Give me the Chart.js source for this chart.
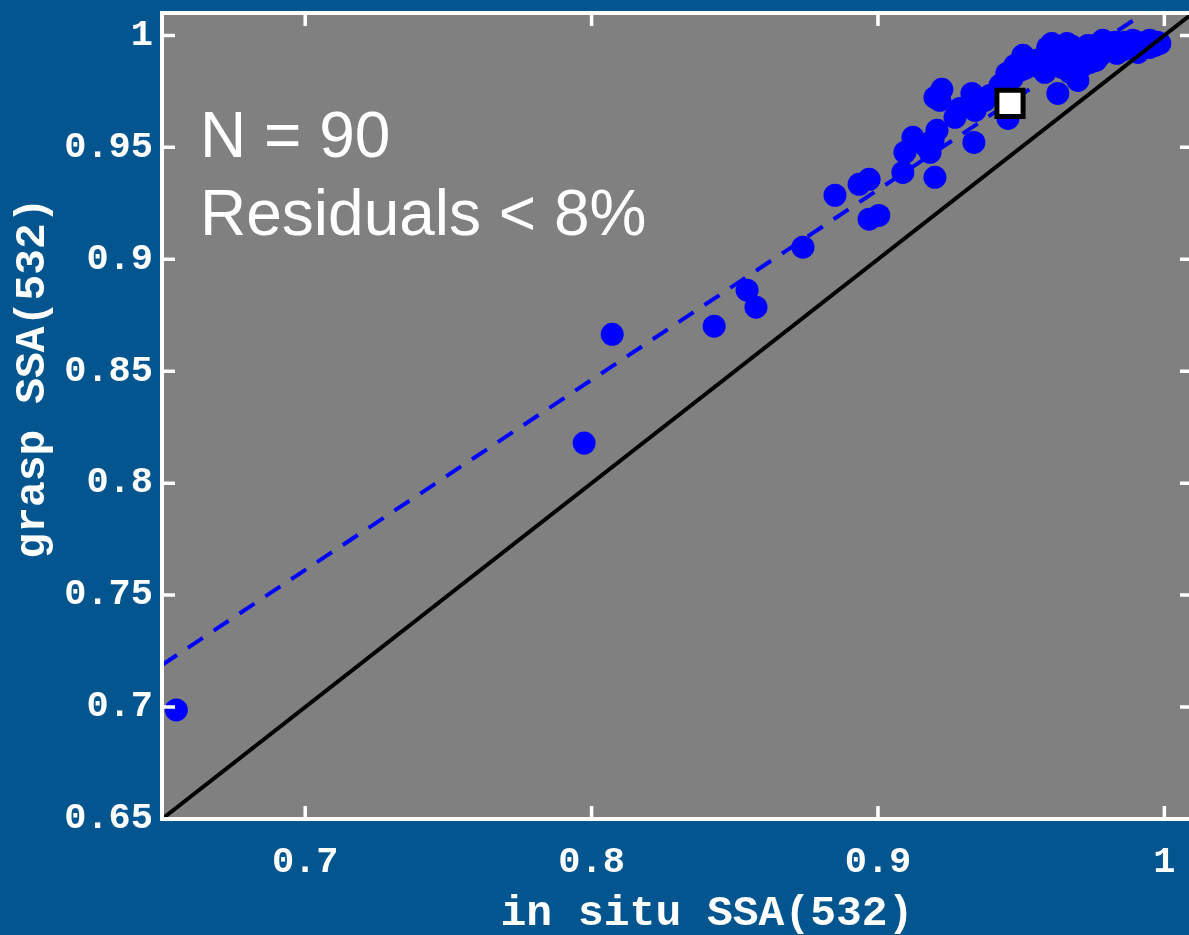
<!DOCTYPE html>
<html>
<head>
<meta charset="utf-8">
<title>SSA(532) comparison</title>
<script src="https://cdn.jsdelivr.net/npm/chart.js@4.4.1/dist/chart.umd.min.js"></script>
<style>
  html, body { margin: 0; padding: 0; overflow: hidden; background: #03558f; }
  #wrap { width: 1200px; height: 935px; }
</style>
</head>
<body>
<div id="wrap"><canvas id="ssaChart" width="1200" height="935"></canvas></div>
<script>
// in situ vs grasp single scattering albedo at 532 nm
const inSitu = [
  0.655, 0.7974, 0.8072, 0.8428, 0.8543, 0.8574, 0.8738, 0.885, 0.8934, 0.8969,
  0.8969, 0.9003, 0.9087, 0.9094, 0.9122, 0.9182, 0.9199, 0.9192, 0.9206, 0.9199,
  0.9223, 0.9269, 0.9328, 0.9339, 0.9373, 0.9335, 0.9454, 0.945, 0.9506, 0.9513,
  0.9565, 0.9593, 0.9642, 0.9628, 0.966, 0.9698, 0.9688, 0.9723, 0.9757, 0.9785,
  0.9834, 0.9817, 0.9862, 0.989, 0.9925, 0.9949, 0.9984, 0.9908, 0.9607, 0.9548,
  0.974, 0.967, 0.9775, 0.9967, 0.9583, 0.9478,
  0.9635, 0.9705, 0.9775, 0.9845, 0.988, 0.9932, 0.967, 0.9733, 0.9803, 0.9618,
  0.9653, 0.9712, 0.9747, 0.9827, 0.9873, 0.9949, 0.9565, 0.9531, 0.9583, 0.9628,
  0.9677, 0.9761, 0.9796, 0.9852, 0.9901, 0.9974, 0.9468, 0.9496, 0.9216, 0.9286,
  0.9164, 0.9391, 0.9426
];
const grasp = [
  0.6987, 0.8179, 0.8665, 0.8701, 0.8862, 0.8786, 0.9054, 0.9286, 0.9335, 0.9357,
  0.9179, 0.9196, 0.9388, 0.9478, 0.9545, 0.9478, 0.9366, 0.9531, 0.9576, 0.9723,
  0.9759, 0.9634, 0.9741, 0.9665, 0.971, 0.9522, 0.9629, 0.983, 0.9911, 0.9853,
  0.9857, 0.9946, 0.9857, 0.9741, 0.9964, 0.9799, 0.9888, 0.9911, 0.9955, 0.9978,
  0.992, 0.9955, 0.9969, 0.9978, 0.9955, 0.9978, 0.9964, 0.9924, 0.9964, 0.9888,
  0.9879, 0.9835, 0.9911, 0.9955, 0.9835, 0.9866,
  0.9911, 0.9933, 0.9942, 0.9946, 0.9942, 0.9969, 0.9897, 0.9955, 0.9933, 0.9888,
  0.9933, 0.9862, 0.9911, 0.9969, 0.9955, 0.9946, 0.9888, 0.9879, 0.9911, 0.9942,
  0.9951, 0.9888, 0.996, 0.9933, 0.996, 0.9969, 0.9808, 0.9844, 0.971, 0.9674,
  0.9509, 0.9732, 0.9777
];

// highlighted case (white square)
const markX = [0.9461];
const markY = [0.9696];

// 1:1 line and linear fit, as end points
const oneX = [0.65, 1.01];
const oneY = [0.65, 1.01];
const fitX = [0.65, 1.01];
const fitY = [0.7188, 1.0244];

const xTicks = [0.7, 0.8, 0.9, 1];
const xTickLabels = ['0.7', '0.8', '0.9', '1'];
const yTicks = [0.65, 0.7, 0.75, 0.8, 0.85, 0.9, 0.95, 1];
const yTickLabels = ['0.65', '0.7', '0.75', '0.8', '0.85', '0.9', '0.95', '1'];

const xTitle = 'in situ SSA(532)';
const yTitle = 'grasp SSA(532)';
const notes = ['N = 90', 'Residuals < 8%'];

const PAGE_BG = '#03558f';
const PLOT_BG = '#808080';
const MONO = '"Liberation Mono", "Courier New", monospace';
const TICK = 13;

const pairs = (xs, ys) => xs.map((v, i) => ({ x: v, y: ys[i] }));

// blue page, grey plot box, white frame with inward ticks, titles and notes
const frame = {
  id: 'frame',
  beforeDraw(chart) {
    const { ctx, chartArea: a } = chart;
    ctx.save();
    ctx.fillStyle = PAGE_BG;
    ctx.fillRect(0, 0, chart.width, chart.height);
    ctx.fillStyle = PLOT_BG;
    ctx.fillRect(a.left, a.top, a.right - a.left, a.bottom - a.top);
    ctx.restore();
  },
  afterDraw(chart) {
    const { ctx, chartArea: a } = chart;
    const { x, y } = chart.scales;
    ctx.save();
    ctx.strokeStyle = '#ffffff';
    ctx.lineWidth = 3.5;
    ctx.beginPath();
    xTicks.forEach(v => {
      const px = x.getPixelForValue(v);
      ctx.moveTo(px, a.bottom); ctx.lineTo(px, a.bottom - TICK);
      ctx.moveTo(px, a.top); ctx.lineTo(px, a.top + TICK);
    });
    yTicks.forEach(v => {
      const py = y.getPixelForValue(v);
      ctx.moveTo(a.left, py); ctx.lineTo(a.left + TICK, py);
      ctx.moveTo(a.right, py); ctx.lineTo(a.right - TICK, py);
    });
    ctx.stroke();
    ctx.lineWidth = 4;
    ctx.strokeRect(a.left, a.top, a.right - a.left, a.bottom - a.top);

    ctx.fillStyle = '#ffffff';
    ctx.font = '64px "Liberation Sans", Arial, sans-serif';
    ctx.textAlign = 'left';
    ctx.textBaseline = 'alphabetic';
    ctx.fillText(notes[0], 200, 157);
    ctx.fillText(notes[1], 200, 235);

    ctx.font = 'bold 43px ' + MONO;
    ctx.textAlign = 'center';
    ctx.fillText(xTitle, 707, 925);
    ctx.translate(44, 378);
    ctx.rotate(-Math.PI / 2);
    ctx.fillText(yTitle, 0, 0);
    ctx.restore();
  }
};

const tickFont = { family: MONO, size: 37, weight: 'bold' };

new Chart(document.getElementById('ssaChart'), {
  type: 'scatter',
  data: {
    datasets: [
      {
        label: 'case',
        data: pairs(markX, markY),
        pointStyle: 'rect',
        pointRadius: 18.5,
        backgroundColor: '#ffffff',
        borderColor: '#000000',
        borderWidth: 5,
        order: 0
      },
      {
        label: '1:1',
        data: pairs(oneX, oneY),
        showLine: true,
        pointRadius: 0,
        borderColor: '#000000',
        borderWidth: 4,
        order: 1
      },
      {
        label: 'fit',
        data: pairs(fitX, fitY),
        showLine: true,
        pointRadius: 0,
        borderColor: '#0000ff',
        borderWidth: 4,
        borderDash: [18, 13],
        order: 2
      },
      {
        label: 'SSA',
        data: pairs(inSitu, grasp),
        pointRadius: 11.5,
        borderWidth: 0,
        backgroundColor: '#0000ff',
        order: 3
      }
    ]
  },
  options: {
    responsive: false,
    animation: false,
    events: [],
    layout: { autoPadding: false, padding: { top: 13, right: 7, left: 0, bottom: 0 } },
    plugins: {
      legend: { display: false },
      tooltip: { enabled: false }
    },
    scales: {
      x: {
        type: 'linear',
        min: 0.65,
        max: 1.01,
        grid: { display: false, drawTicks: false },
        border: { display: false },
        afterBuildTicks: s => { s.ticks = xTicks.map(v => ({ value: v })); },
        afterFit: s => { s.height = 116; s.paddingLeft = 0; s.paddingRight = 0; },
        ticks: {
          color: '#ffffff',
          font: tickFont,
          padding: 21,
          maxRotation: 0,
          callback: v => xTickLabels[xTicks.indexOf(v)]
        }
      },
      y: {
        type: 'linear',
        min: 0.65,
        max: 1.01,
        grid: { display: false, drawTicks: false },
        border: { display: false },
        afterBuildTicks: s => { s.ticks = yTicks.map(v => ({ value: v })); },
        afterFit: s => { s.width = 162; s.paddingTop = 0; s.paddingBottom = 0; },
        ticks: {
          color: '#ffffff',
          font: tickFont,
          padding: 9,
          callback: v => yTickLabels[yTicks.indexOf(v)]
        }
      }
    }
  },
  plugins: [frame]
});
</script>
</body>
</html>
